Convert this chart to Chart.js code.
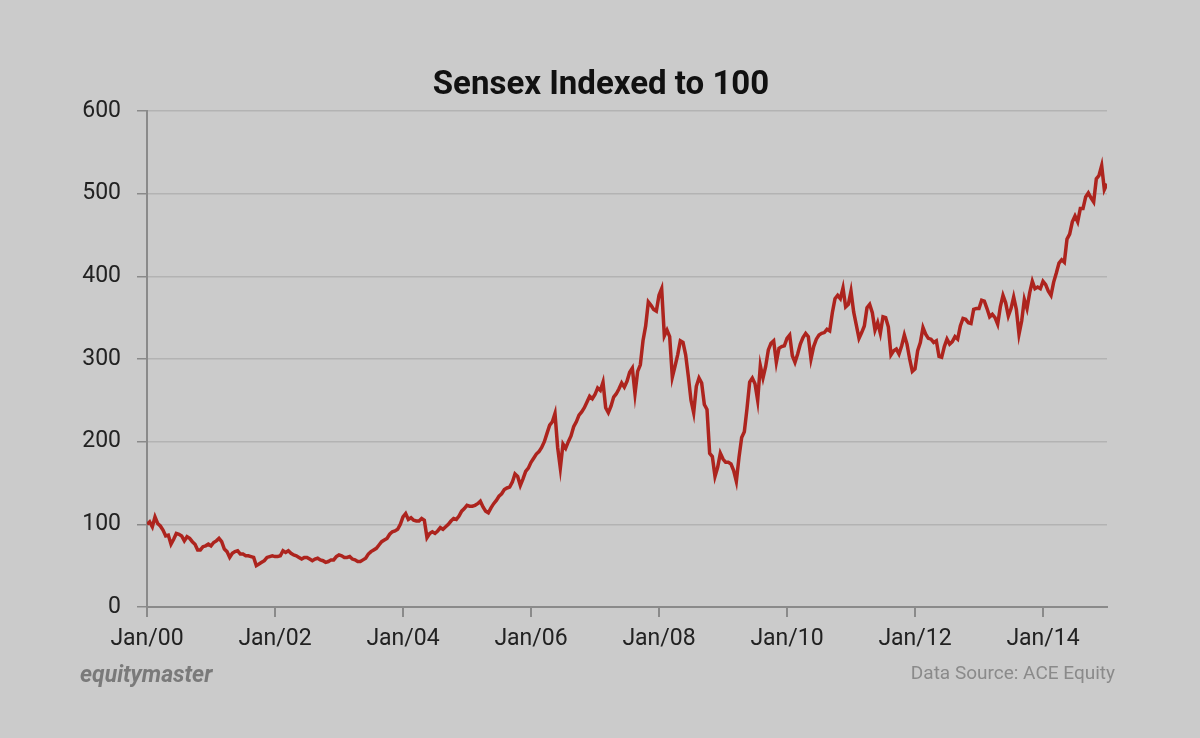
<!DOCTYPE html>
<html>
<head>
<meta charset="utf-8">
<script src="https://cdn.jsdelivr.net/npm/chart.js@4"></script>
<style>
  html, body { margin: 0; padding: 0; background: #cbcbcb; }
  #wrap { position: relative; width: 1200px; height: 738px; background: #cbcbcb; }
  #title { position: absolute; left: 0; width: 1202px; top: 63px; text-align: center;
           font-family: Roboto, sans-serif; font-weight: bold; font-size: 33px; color: #111; }
  #brand { position: absolute; left: 80px; top: 661px; font-family: Roboto, sans-serif;
           font-weight: bold; font-style: italic; font-size: 23px; color: #7a7a7a; }
  #source { position: absolute; right: 85px; top: 661px; font-family: Roboto, sans-serif;
            font-size: 19px; color: #8a8a8a; }
</style>
</head>
<body>
<div id="wrap">
  <canvas id="c" width="1200" height="738"></canvas>
  <div id="title">Sensex Indexed to 100</div>
  <div id="brand">equitymaster</div>
  <div id="source">Data Source: ACE Equity</div>
</div>
<script>
// Semi-monthly readings, starting Jan 2000 (index = 100), step = half a month
const values2000 = [100, 103, 97, 109, 101, 98, 93, 86, 87, 76, 82, 89, 88, 86, 80, 85, 83, 79, 76, 69, 69, 73, 74, 76, 74];
const values2001 = [78, 80, 83, 79, 70, 67, 60, 65, 67, 68, 64, 64, 62, 62, 61, 60, 50, 52, 54, 56, 60, 61, 62, 61];
const values2002 = [61, 62, 68, 66, 68, 65, 63, 62, 60, 58, 60, 60, 58, 56, 58, 59, 57, 56, 54, 55, 57, 57, 61, 63];
const values2003 = [62, 60, 60, 61, 58, 57, 55, 55, 57, 59, 64, 67, 69, 71, 75, 79, 81, 83, 88, 91, 92, 94, 100, 109];
const values2004 = [113, 106, 108, 105, 104, 104, 107, 105, 84, 89, 91, 89, 92, 96, 94, 97, 100, 104, 107, 106, 110, 116, 119, 123];
const values2005 = [122, 122, 123, 125, 128, 121, 116, 114, 120, 125, 129, 134, 137, 142, 144, 145, 151, 161, 158, 147, 155, 164, 168, 175];
const values2006 = [180, 185, 188, 193, 200, 210, 220, 224, 234, 193, 168, 197, 192, 200, 207, 218, 224, 232, 236, 241, 248, 255, 252, 257];
const values2007 = [265, 262, 272, 241, 235, 243, 254, 258, 264, 271, 266, 273, 284, 289, 258, 285, 293, 322, 340, 369, 365, 360, 358, 377];
const values2008 = [385, 328, 335, 327, 278, 291, 305, 322, 320, 305, 279, 250, 235, 267, 277, 271, 245, 239, 186, 182, 158, 169, 186, 179];
const values2009 = [175, 175, 173, 165, 152, 181, 205, 212, 240, 272, 277, 270, 250, 292, 277, 291, 311, 319, 322, 296, 313, 315, 316, 325];
const values2010 = [329, 304, 296, 306, 318, 326, 331, 327, 300, 315, 324, 329, 331, 332, 336, 334, 356, 373, 377, 373, 386, 363, 366, 382];
const values2011 = [357, 341, 325, 332, 340, 362, 366, 356, 335, 344, 331, 351, 350, 339, 305, 310, 312, 306, 316, 329, 318, 300, 285, 288];
const values2012 = [310, 320, 338, 330, 325, 324, 320, 322, 303, 302, 315, 324, 318, 321, 327, 324, 340, 349, 348, 344, 343, 360, 361, 361];
const values2013 = [371, 370, 361, 351, 354, 350, 342, 363, 377, 368, 352, 361, 375, 360, 330, 346, 372, 361, 380, 394, 385, 387, 385, 394];
const values2014 = [390, 382, 377, 393, 404, 416, 420, 417, 445, 451, 466, 473, 466, 482, 482, 496, 501, 495, 490, 518, 522, 534, 505, 512];

const xTickLabels = ['Jan/00', 'Jan/02', 'Jan/04', 'Jan/06', 'Jan/08', 'Jan/10', 'Jan/12', 'Jan/14'];
const yTickValues = [0, 100, 200, 300, 400, 500, 600];
const seriesName = 'Sensex Indexed to 100';

const allValues = [].concat(values2000, values2001, values2002, values2003, values2004,
  values2005, values2006, values2007, values2008, values2009, values2010, values2011,
  values2012, values2013, values2014);
const points = allValues.map((v, i) => ({ x: i / 2, y: v }));

const axisColor = '#8a8a8a';
const gridColor = '#b3b3b3';
const tickFont = { family: 'Roboto', size: 23 };

new Chart(document.getElementById('c'), {
  type: 'line',
  data: {
    datasets: [{
      label: seriesName,
      data: points,
      borderColor: '#ad241e',
      borderWidth: 3.5,
      pointRadius: 0,
      tension: 0,
      fill: false
    }]
  },
  options: {
    responsive: false,
    animation: false,
    devicePixelRatio: 1,
    layout: { padding: { top: 111, right: 93, bottom: 71, left: 0 } },
    plugins: { legend: { display: false }, title: { display: false }, tooltip: { enabled: false } },
    scales: {
      x: {
        type: 'linear',
        min: 0,
        max: 180,
        afterBuildTicks: s => { s.ticks = xTickLabels.map((_, i) => ({ value: i * 24 })); },
        afterFit: s => { s.height = 60; },
        ticks: {
          autoSkip: false,
          maxRotation: 0,
          padding: 8,
          color: '#222',
          font: tickFont,
          callback: v => xTickLabels[Math.round(v / 24)]
        },
        grid: { drawOnChartArea: false, drawTicks: true, tickLength: 10, tickColor: axisColor, lineWidth: 2 },
        border: { display: true, color: axisColor, width: 2 }
      },
      y: {
        min: 0,
        max: 600,
        afterBuildTicks: s => { s.ticks = yTickValues.map(v => ({ value: v })); },
        afterFit: s => { s.width = 147; },
        ticks: { padding: 16, color: '#222', font: tickFont },
        grid: { color: gridColor, lineWidth: 1.5, drawTicks: true, tickLength: 10, tickColor: axisColor },
        border: { display: true, color: axisColor, width: 2 }
      }
    }
  }
});
</script>
</body>
</html>
